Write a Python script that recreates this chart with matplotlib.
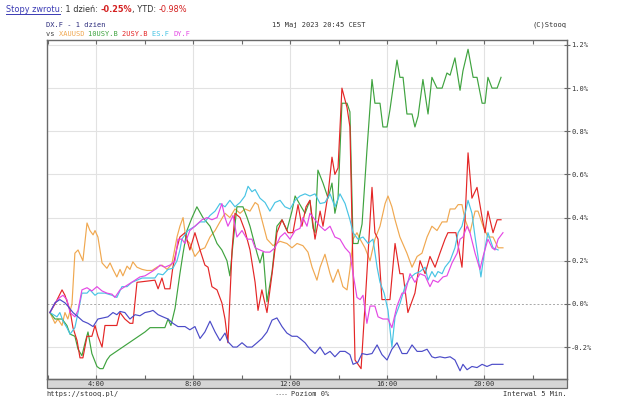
import matplotlib
matplotlib.use("Agg")
import matplotlib.pyplot as plt
from matplotlib.patches import Rectangle
from matplotlib.lines import Line2D

W, H = 625, 401

# ---------------- data (time in hours CEST, value in %) ----------------
t_xau = [2.09, 2.30, 2.42, 2.59, 2.71, 2.83, 3.00, 3.12, 3.25, 3.45, 3.62, 3.74, 3.87, 3.95, 4.07,
         4.24, 4.44, 4.57, 4.69, 4.85, 4.98, 5.10, 5.27, 5.39, 5.51, 5.68, 5.89, 6.09, 6.30, 6.50,
         6.71, 6.92, 7.12, 7.33, 7.45, 7.58, 7.70, 7.86, 8.07, 8.28, 8.48, 8.69, 8.90, 9.10, 9.31,
         9.51, 9.72, 9.93, 10.13, 10.34, 10.55, 10.67, 10.83, 11.04, 11.29, 11.58, 11.86, 12.07,
         12.28, 12.52, 12.73, 12.90, 13.10, 13.23, 13.43, 13.64, 13.76, 13.97, 14.17, 14.34, 14.46,
         14.59, 14.75, 14.88, 15.08, 15.29, 15.49, 15.70, 15.91, 16.03, 16.19, 16.32, 16.52, 16.81,
         17.02, 17.23, 17.43, 17.64, 17.84, 18.05, 18.26, 18.46, 18.59, 18.79, 18.92, 19.08, 19.21,
         19.41, 19.62, 19.74, 19.95, 20.15, 20.36, 20.57, 20.77]
v_xau = [-0.04, -0.09, -0.07, -0.10, -0.04, -0.07, 0.00, 0.235, 0.25, 0.20, 0.375, 0.34, 0.32, 0.34, 0.31,
         0.19, 0.165, 0.19, 0.16, 0.125, 0.16, 0.13, 0.175, 0.16, 0.195, 0.17, 0.16, 0.155, 0.155, 0.17,
         0.18, 0.16, 0.185, 0.31, 0.36, 0.40, 0.30, 0.28, 0.22, 0.25, 0.26, 0.31, 0.34, 0.38, 0.42,
         0.40, 0.44, 0.42, 0.44, 0.43, 0.47, 0.46, 0.39, 0.30, 0.27, 0.29, 0.28, 0.26,
         0.28, 0.27, 0.24, 0.17, 0.11, 0.17, 0.23, 0.14, 0.10, 0.16, 0.08, 0.065, 0.16,
         0.30, 0.33, 0.30, 0.26, 0.20, 0.30, 0.36, 0.465, 0.50, 0.45, 0.39, 0.31, 0.235,
         0.17, 0.22, 0.235, 0.31, 0.36, 0.34, 0.38, 0.38, 0.44, 0.44, 0.46, 0.46, 0.39,
         0.33, 0.43, 0.43, 0.36, 0.31, 0.31, 0.26, 0.26]

t_10y = [2.09, 2.30, 2.59, 2.79, 2.92, 3.12, 3.25, 3.41, 3.54, 3.66, 3.82, 4.03, 4.15, 4.28, 4.44,
         4.57, 6.01, 6.22, 6.83, 6.96, 7.08, 7.25, 7.45, 7.58, 7.74, 7.95, 8.15, 8.40, 8.69, 8.98,
         9.18, 9.39, 9.51, 9.64, 9.80, 10.05, 10.22, 10.34, 10.63, 10.75, 10.88, 11.04, 11.25, 11.45,
         11.66, 11.86, 12.07, 12.20, 12.40, 12.61, 12.81, 12.94, 13.02, 13.14, 13.35, 13.56, 13.72,
         13.84, 13.97, 14.13, 14.34, 14.46, 14.59, 14.79, 14.96, 15.16, 15.37, 15.49, 15.70, 15.82,
         15.99, 16.11, 16.40, 16.52, 16.65, 16.81, 17.02, 17.14, 17.27, 17.47, 17.68, 17.84, 18.05,
         18.26, 18.46, 18.59, 18.79, 19.00, 19.12, 19.33, 19.54, 19.70, 19.91, 20.03, 20.15, 20.32,
         20.53, 20.69]
v_10y = [-0.04, -0.07, -0.07, -0.10, -0.14, -0.15, -0.21, -0.24, -0.18, -0.13, -0.23, -0.29, -0.30, -0.30, -0.26,
         -0.24, -0.13, -0.11, -0.11, -0.07, -0.10, -0.02, 0.14, 0.235, 0.34, 0.40, 0.45, 0.40, 0.36, 0.28,
         0.25, 0.20, 0.13, 0.28, 0.45, 0.45, 0.40, 0.36, 0.235, 0.19, 0.24, 0.01, 0.15, 0.36,
         0.39, 0.34, 0.43, 0.50, 0.46, 0.42, 0.48, 0.35, 0.33, 0.62, 0.56, 0.49, 0.56,
         0.42, 0.49, 0.93, 0.93, 0.89, 0.28, 0.28, 0.37, 0.71, 1.04, 0.93, 0.93, 0.82,
         0.82, 0.90, 1.13, 1.05, 1.05, 0.88, 0.88, 0.82, 0.87, 1.04, 0.88, 1.05, 1.00,
         1.00, 1.07, 1.06, 1.14, 0.99, 1.08, 1.18, 1.05, 1.05, 0.93, 0.93, 1.05, 1.00,
         1.00, 1.05]

t_2y = [2.09, 2.30, 2.59, 2.71, 2.92, 3.04, 3.21, 3.33, 3.45, 3.62, 3.82, 3.95, 4.07, 4.24, 4.36,
        4.85, 4.98, 5.18, 5.39, 5.51, 5.68, 6.42, 6.55, 6.71, 6.83, 7.04, 7.16, 7.33, 7.45, 7.66,
        7.86, 8.07, 8.28, 8.48, 8.61, 8.77, 8.98, 9.18, 9.31, 9.43, 9.60, 9.72, 9.93, 10.13, 10.34,
        10.55, 10.67, 10.83, 11.04, 11.25, 11.45, 11.66, 11.91, 12.11, 12.32, 12.48, 12.65, 12.81,
        13.02, 13.23, 13.35, 13.56, 13.72, 13.84, 13.97, 14.13, 14.34, 14.46, 14.59, 14.67, 14.92,
        15.08, 15.37, 15.49, 15.62, 15.78, 16.11, 16.32, 16.52, 16.65, 16.85, 17.14, 17.35, 17.56,
        17.76, 17.97, 18.17, 18.38, 18.50, 18.83, 19.00, 19.08, 19.21, 19.33, 19.49, 19.70, 19.91,
        20.03, 20.15, 20.36, 20.53, 20.69]
v_2y = [-0.04, 0.00, 0.065, 0.04, -0.03, -0.11, -0.17, -0.25, -0.25, -0.15, -0.15, -0.10, -0.15, -0.20, -0.10,
        -0.10, -0.04, -0.07, -0.09, -0.09, 0.10, 0.11, 0.07, 0.12, 0.07, 0.07, 0.17, 0.26, 0.31, 0.33,
        0.25, 0.33, 0.25, 0.18, 0.17, 0.08, 0.065, 0.005, -0.07, -0.18, 0.25, 0.42, 0.40, 0.34, 0.25,
        0.10, -0.03, 0.065, -0.04, 0.14, 0.33, 0.39, 0.33, 0.33, 0.46, 0.36, 0.45, 0.48,
        0.30, 0.43, 0.36, 0.51, 0.68, 0.60, 0.63, 1.00, 0.91, 0.82, 0.14, -0.26, -0.30,
        -0.01, 0.54, 0.33, 0.30, 0.02, 0.02, 0.28, 0.14, 0.14, -0.04, 0.05, 0.20, 0.14,
        0.22, 0.17, 0.235, 0.30, 0.33, 0.33, 0.22, 0.17, 0.40, 0.70, 0.49, 0.54, 0.40,
        0.33, 0.43, 0.33, 0.39, 0.39]

t_es = [2.09, 2.38, 2.50, 2.63, 2.79, 2.92, 3.12, 3.25, 3.41, 3.62, 3.74, 3.95, 4.07, 4.36, 4.65,
        4.85, 5.06, 5.27, 5.47, 5.68, 5.89, 6.13, 6.42, 6.55, 6.75, 6.96, 7.16, 7.33, 7.45, 7.53,
        7.78, 8.07, 8.28, 8.48, 8.69, 8.90, 9.10, 9.31, 9.51, 9.72, 9.93, 10.13, 10.26, 10.42, 10.55,
        10.75, 10.96, 11.16, 11.37, 11.58, 11.78, 11.99, 12.20, 12.40, 12.61, 12.81, 13.02, 13.23,
        13.43, 13.64, 13.84, 14.05, 14.26, 14.46, 14.59, 14.79, 15.00, 15.21, 15.41, 15.58, 15.70,
        15.87, 16.03, 16.19, 16.32, 16.52, 16.73, 16.94, 17.14, 17.35, 17.56, 17.68, 17.84, 17.97,
        18.09, 18.26, 18.38, 18.59, 18.79, 18.92, 19.08, 19.21, 19.33, 19.49, 19.62, 19.74, 19.86,
        20.03, 20.15, 20.36, 20.57]
v_es = [-0.04, -0.06, -0.04, -0.08, -0.11, -0.14, -0.11, -0.04, 0.05, 0.05, 0.065, 0.04, 0.05, 0.05, 0.04,
        0.03, 0.08, 0.08, 0.10, 0.11, 0.12, 0.12, 0.12, 0.14, 0.135, 0.16, 0.165, 0.20, 0.25, 0.30,
        0.34, 0.36, 0.38, 0.38, 0.41, 0.43, 0.465, 0.45, 0.48, 0.45, 0.47, 0.50, 0.545, 0.52, 0.53,
        0.49, 0.47, 0.43, 0.47, 0.48, 0.45, 0.44, 0.48, 0.50, 0.51, 0.50, 0.51, 0.465,
        0.47, 0.51, 0.45, 0.51, 0.465, 0.39, 0.33, 0.30, 0.31, 0.28, 0.30, 0.17, 0.10,
        0.05, -0.03, -0.20, -0.06, 0.00, 0.08, 0.12, 0.14, 0.15, 0.17, 0.11, 0.15, 0.125,
        0.15, 0.14, 0.17, 0.20, 0.26, 0.33, 0.36, 0.42, 0.48, 0.42, 0.31, 0.22, 0.125,
        0.26, 0.33, 0.26, 0.25]

t_dy = [2.09, 2.30, 2.50, 2.63, 2.79, 2.92, 3.12, 3.25, 3.41, 3.62, 3.82, 4.03, 4.24, 4.44, 4.65,
        4.77, 4.98, 5.18, 5.39, 5.60, 5.80, 6.01, 6.30, 6.50, 6.63, 6.83, 7.04, 7.25, 7.37, 7.53,
        7.66, 7.86, 8.07, 8.36, 8.57, 8.77, 8.98, 9.18, 9.31, 9.43, 9.64, 9.80, 10.01, 10.22, 10.42,
        10.55, 10.75, 10.96, 11.16, 11.37, 11.58, 11.78, 11.99, 12.20, 12.40, 12.52, 12.69, 12.81,
        13.02, 13.23, 13.43, 13.64, 13.84, 14.05, 14.26, 14.46, 14.59, 14.75, 14.88, 15.00, 15.16,
        15.29, 15.49, 15.62, 15.82, 16.03, 16.19, 16.40, 16.61, 16.73, 16.94, 17.14, 17.35, 17.56,
        17.76, 17.89, 18.09, 18.30, 18.46, 18.67, 18.88, 19.00, 19.12, 19.29, 19.41, 19.62, 19.82,
        19.95, 20.15, 20.32, 20.44, 20.57, 20.77]
v_dy = [-0.04, 0.005, 0.03, 0.04, 0.02, -0.04, -0.06, -0.03, 0.065, 0.075, 0.06, 0.08, 0.06, 0.05, 0.045,
        0.03, 0.065, 0.08, 0.095, 0.11, 0.125, 0.13, 0.15, 0.165, 0.18, 0.17, 0.18, 0.20, 0.30, 0.30,
        0.28, 0.34, 0.36, 0.39, 0.40, 0.39, 0.40, 0.465, 0.40, 0.36, 0.41, 0.31, 0.34, 0.30, 0.30,
        0.26, 0.25, 0.24, 0.24, 0.26, 0.31, 0.33, 0.30, 0.34, 0.35, 0.40, 0.36, 0.42,
        0.39, 0.36, 0.34, 0.36, 0.31, 0.30, 0.26, 0.235, 0.14, 0.03, 0.02, 0.04, -0.09,
        -0.01, -0.01, -0.06, -0.07, -0.07, -0.11, -0.01, 0.05, 0.05, 0.14, 0.10, 0.14, 0.13,
        0.08, 0.11, 0.10, 0.125, 0.13, 0.19, 0.235, 0.30, 0.31, 0.36, 0.33, 0.235, 0.16,
        0.22, 0.30, 0.26, 0.25, 0.30, 0.33]

t_dx = [2.09, 2.30, 2.50, 2.71, 2.83, 3.04, 3.25, 3.45, 3.66, 3.87, 4.07, 4.28, 4.48, 4.69, 4.85,
        4.98, 5.18, 5.39, 5.60, 5.80, 6.01, 6.22, 6.34, 6.55, 6.75, 6.96, 7.16, 7.37, 7.45, 7.66,
        7.86, 8.07, 8.28, 8.48, 8.69, 8.90, 9.10, 9.31, 9.43, 9.64, 9.80, 10.01, 10.22, 10.42, 10.63,
        10.83, 11.04, 11.25, 11.45, 11.66, 11.86, 12.07, 12.28, 12.40, 12.61, 12.81, 13.02, 13.23,
        13.43, 13.64, 13.84, 14.05, 14.26, 14.46, 14.59, 14.79, 14.96, 15.16, 15.37, 15.58, 15.78,
        15.99, 16.19, 16.40, 16.61, 16.81, 17.02, 17.23, 17.43, 17.64, 17.84, 17.97, 18.17, 18.38,
        18.59, 18.79, 19.00, 19.12, 19.29, 19.49, 19.70, 19.91, 20.11, 20.32, 20.53, 20.77]
v_dx = [-0.04, 0.005, 0.02, 0.005, -0.01, -0.04, -0.06, -0.08, -0.09, -0.105, -0.07, -0.065, -0.06, -0.04, -0.05,
        -0.035, -0.04, -0.07, -0.05, -0.055, -0.04, -0.035, -0.03, -0.05, -0.06, -0.07, -0.09, -0.105, -0.105, -0.105,
        -0.12, -0.105, -0.16, -0.13, -0.08, -0.13, -0.17, -0.135, -0.175, -0.20, -0.20, -0.18, -0.20, -0.20, -0.18,
        -0.16, -0.13, -0.075, -0.065, -0.105, -0.135, -0.15, -0.15, -0.16, -0.18, -0.21, -0.23, -0.20,
        -0.235, -0.22, -0.245, -0.22, -0.22, -0.235, -0.28, -0.27, -0.23, -0.235, -0.23, -0.19, -0.235,
        -0.26, -0.21, -0.18, -0.23, -0.23, -0.19, -0.22, -0.22, -0.21, -0.245, -0.25, -0.245, -0.25,
        -0.245, -0.26, -0.31, -0.28, -0.305, -0.29, -0.295, -0.28, -0.29, -0.28, -0.28, -0.28]

y_ticks = [-0.2, 0.0, 0.2, 0.4, 0.6, 0.8, 1.0, 1.2]
y_labels = ["-0.2%", "0.0%", "0.2%", "0.4%", "0.6%", "0.8%", "1.0%", "1.2%"]
x_major = [4, 8, 12, 16, 20]
x_labels = ["4:00", "8:00", "12:00", "16:00", "20:00"]
x_minor = [2, 6, 10, 14, 18, 22]

names = ["XAUUSD", "10USY.B", "2USY.B", "ES.F", "DY.F"]

# ---------------- styling ----------------
C_XAU = "#f0a850"
C_10Y = "#3fa33f"
C_2Y = "#e42626"
C_ES = "#48c4e4"
C_DY = "#e448e4"
C_DX = "#4b4bc8"
MONO = "DejaVu Sans Mono"
FS = 5.0

fig = plt.figure(figsize=(W / 100, H / 100), dpi=100)
fig.patch.set_facecolor("white")
L, R, T, B = 47, 567, 40, 379
ax = fig.add_axes([L / W, 1 - B / H, (R - L) / W, (B - T) / H])
ax.set_xlim(1.97, 23.41)
ax.set_ylim(-0.348, 1.223)

for x in x_major:
    ax.axvline(x, color="#e2e2e2", lw=0.8, zorder=0)
for y in y_ticks:
    if y == 0:
        ax.axhline(y, color="#a8a8a8", lw=0.7, ls=(0, (2, 2)), zorder=0)
    else:
        ax.axhline(y, color="#e2e2e2", lw=0.8, zorder=0)

lw = 0.85
ax.plot(t_xau, v_xau, color=C_XAU, lw=lw)
ax.plot(t_10y, v_10y, color=C_10Y, lw=lw)
ax.plot(t_2y, v_2y, color=C_2Y, lw=lw)
ax.plot(t_es, v_es, color=C_ES, lw=lw)
ax.plot(t_dy, v_dy, color=C_DY, lw=lw)
ax.plot(t_dx, v_dx, color=C_DX, lw=lw)

for s in ax.spines.values():
    s.set_color("#6a6a6a")
    s.set_linewidth(1.0)

ax.yaxis.tick_right()
ax.set_yticks(y_ticks)
ax.set_yticklabels(y_labels, fontfamily=MONO, fontsize=FS, color="#333333")
ax.tick_params(axis="y", which="both", direction="inout", length=4, width=0.8,
               color="#6a6a6a", pad=1, left=False, right=True)
ax.set_xticks(x_major + x_minor)
ax.set_xticklabels([])
ax.tick_params(axis="x", which="both", direction="in", length=3, width=0.8,
               color="#6a6a6a", top=True, bottom=True)

# grey time band below plot
band_h = 9 / (B - T)
ax.add_patch(Rectangle((0, -band_h), 1, band_h, transform=ax.transAxes,
                       facecolor="#d6d6d6", edgecolor="#6a6a6a", lw=0.9, clip_on=False))
trans = ax.get_xaxis_transform()
for x, lab in zip(x_major, x_labels):
    ax.text(x, -band_h / 2, lab, transform=trans, ha="center", va="center",
            fontfamily=MONO, fontsize=FS, color="#333333", clip_on=False)

def fx(px):
    return px / W

def fy(py):
    return 1 - py / H

renderer = fig.canvas.get_renderer()

def chain(x0, y0, pieces, **common):
    x = x0
    out = []
    for s, c, extra in pieces:
        kw = dict(common)
        kw.update(extra)
        t = fig.text(fx(x), fy(y0), s, color=c, ha="left", va="center", **kw)
        bb = t.get_window_extent(renderer)
        out.append((t, x, bb.width))
        x += bb.width
    return out

# page header
hdr = chain(6, 9.5, [("Stopy zwrotu", "#3a3ab4", {}),
                     (": 1 dzień: ", "#333333", {}),
                     ("-0.25%", "#d42020", {"fontweight": "bold"}),
                     (", YTD: ", "#333333", {}),
                     ("-0.98%", "#d42020", {})],
            fontfamily="DejaVu Sans", fontsize=5.9)
_, ux, uw = hdr[0]
fig.add_artist(Line2D([fx(ux), fx(ux + uw)], [fy(14), fy(14)], color="#3a3ab4", lw=0.7))

# chart header
fig.text(fx(46), fy(25), "DX.F - 1 dzien", color="#2c2c7c", fontfamily=MONO, fontsize=FS,
         ha="left", va="center")
chain(46, 34, [("vs ", "#444444", {}),
               (names[0] + " ", C_XAU, {}),
               (names[1] + " ", C_10Y, {}),
               (names[2] + " ", C_2Y, {}),
               (names[3] + " ", C_ES, {}),
               (names[4], C_DY, {})],
      fontfamily=MONO, fontsize=FS)
fig.text(fx(272), fy(25), "15 Maj 2023 20:45 CEST", color="#333333", fontfamily=MONO,
         fontsize=FS, ha="left", va="center")
fig.text(fx(566), fy(25), "(C)Stooq", color="#333333", fontfamily=MONO, fontsize=FS,
         ha="right", va="center")

# footer
fig.text(fx(46), fy(394), "https://stooq.pl/", color="#333333", fontfamily=MONO, fontsize=FS,
         ha="left", va="center")
fig.add_artist(Line2D([fx(276), fx(287)], [fy(394), fy(394)], color="#a0a0a0", lw=0.7,
                      ls=(0, (1.5, 1.5))))
fig.text(fx(291), fy(394), "Poziom 0%", color="#333333", fontfamily=MONO, fontsize=FS,
         ha="left", va="center")
fig.text(fx(567), fy(394), "Interwal 5 Min.", color="#333333", fontfamily=MONO, fontsize=FS,
         ha="right", va="center")

fig.savefig("out.png", dpi=100, facecolor="white")
